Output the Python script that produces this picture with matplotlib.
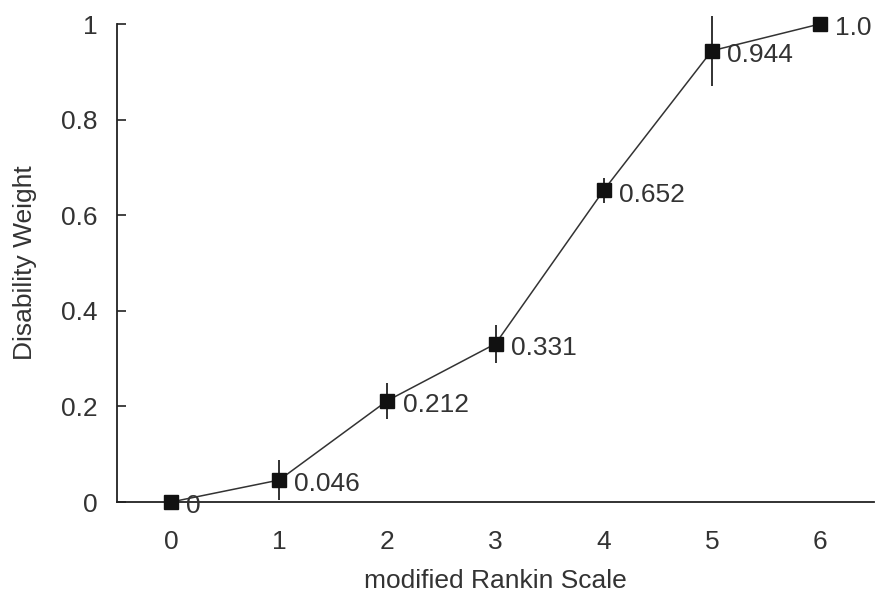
import matplotlib
matplotlib.use("Agg")
import matplotlib.pyplot as plt

# modified Rankin Scale grades and their disability weights
mrs = [0, 1, 2, 3, 4, 5, 6]
weights = [0.0, 0.046, 0.212, 0.331, 0.652, 0.944, 1.0]
errors = [0.0, 0.042, 0.038, 0.040, 0.026, 0.073, 0.0]
value_labels = ["0", "0.046", "0.212", "0.331", "0.652", "0.944", "1.0"]

plt.rcParams["font.family"] = ["Liberation Sans", "DejaVu Sans"]
ink = "#222222"
text_color = "#333333"
fs = 19

fig = plt.figure(figsize=(8.76, 5.96), dpi=100)
ax = fig.add_axes([117 / 876, 1 - 502 / 596, (874 - 117) / 876, (502 - 24) / 596])

eb = ax.errorbar(mrs, weights, yerr=errors, fmt="none", ecolor=ink,
                 elinewidth=1.3, capsize=0, zorder=2)
for coll in eb.lines[2]:
    coll.set_clip_on(False)
line, = ax.plot(mrs, weights, color="#333333", lw=1.1, marker="s",
                markersize=10, markerfacecolor="#111111",
                markeredgecolor="#111111", zorder=3)
line.set_clip_on(False)

for x, y, lab in zip(mrs, weights, value_labels):
    ax.annotate(lab, (x, y), xytext=(11, -3), textcoords="offset points",
                ha="left", va="center", fontsize=fs, color=text_color,
                annotation_clip=False)

ax.set_xlim(-0.5, 6.5)
ax.set_ylim(0, 1)
ax.set_xticks(mrs)
ax.set_yticks([0, 0.2, 0.4, 0.6, 0.8, 1.0])
ax.set_yticklabels(["0", "0.2", "0.4", "0.6", "0.8", "1"])

for side in ("top", "right"):
    ax.spines[side].set_visible(False)
for side in ("left", "bottom"):
    ax.spines[side].set_color(ink)
    ax.spines[side].set_linewidth(1.3)

ax.tick_params(axis="y", direction="in", length=6.5, width=1.2, color=ink,
               pad=14, labelsize=fs, labelcolor=text_color)
ax.tick_params(axis="x", length=0, pad=20, labelsize=fs, labelcolor=text_color)

ax.set_xlabel("modified Rankin Scale", fontsize=fs, color=text_color)
ax.set_ylabel("Disability Weight", fontsize=fs, color=text_color)
ax.xaxis.set_label_coords(0.5, -0.141)
ax.yaxis.set_label_coords(-80 / 757, 0.5)

fig.savefig("out.png", dpi=100)
